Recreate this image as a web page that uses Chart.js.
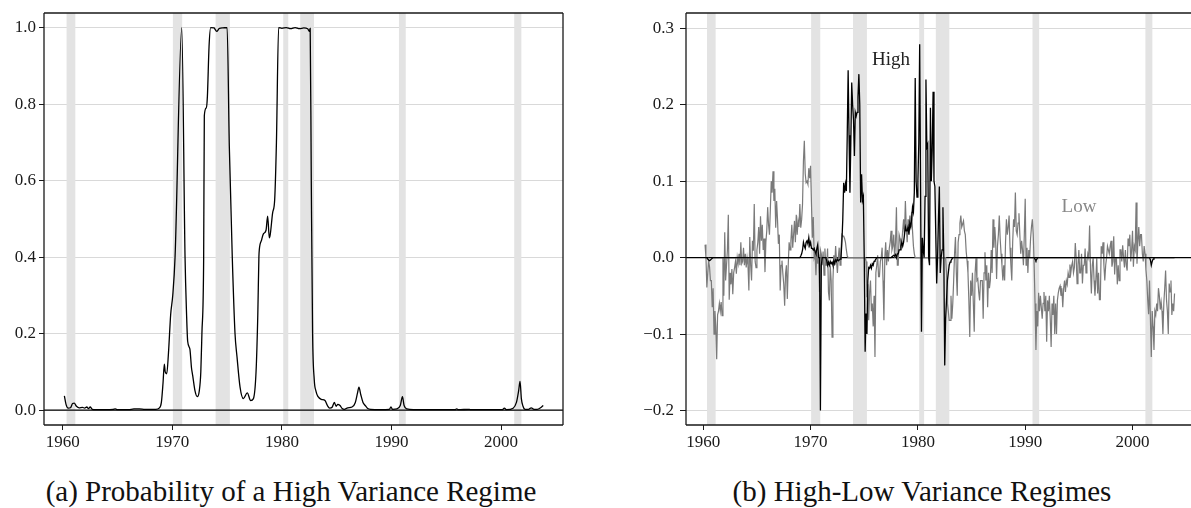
<!DOCTYPE html>
<html>
<head>
<meta charset="utf-8">
<script src="https://cdn.jsdelivr.net/npm/chart.js@4.4.1/dist/chart.umd.min.js"></script>
<style>
  body { margin: 0; background: #fff; width: 1191px; height: 508px; position: relative; overflow: hidden; font-family: "Liberation Serif", serif; }
  canvas { position: absolute; top: 0; }
  #probChart { left: 0; }
  #diffChart { left: 600px; }
  .caption { position: absolute; top: 477px; font-size: 29px; line-height: 1; color: #111; white-space: nowrap; transform: translateX(-50%); }
  .tag { position: absolute; font-size: 19px; line-height: 1; white-space: nowrap; transform: translate(-50%, -50%); }
</style>
</head>
<body>
<canvas id="probChart" width="580" height="460"></canvas>
<canvas id="diffChart" width="591" height="460"></canvas>
<div class="caption" style="left:291px">(a) Probability of a High Variance Regime</div>
<div class="caption" style="left:922px">(b) High-Low Variance Regimes</div>
<div class="tag" style="left:891px; top:58px; color:#222">High</div>
<div class="tag" style="left:1079px; top:205px; color:#888">Low</div>
<script>
// recession periods (shaded), in years
const recessions = [
    [1960.35, 1961.15], [1970.05, 1970.9], [1973.95, 1975.25], [1980.12, 1980.58],
    [1981.67, 1982.93], [1990.68, 1991.3], [2001.2, 2001.85]
];

const yearTicks = [1960, 1970, 1980, 1990, 2000];
const probTicks = [0, 0.2, 0.4, 0.6, 0.8, 1.0];
const diffTicks = [-0.2, -0.1, 0, 0.1, 0.2, 0.3];

// panel (a): probability of the high variance regime
const probYears = [
    1960.15, 1960.3, 1960.5, 1960.7, 1960.9, 1961.05, 1961.25, 1961.5, 1961.8, 1962.0,
    1962.2, 1962.35, 1962.5, 1962.7, 1963.0, 1964.0, 1964.6, 1964.8, 1965.0, 1966.0,
    1966.5, 1967.0, 1967.5, 1968.0, 1968.5, 1968.8, 1969.0, 1969.15, 1969.27, 1969.35,
    1969.49, 1969.65, 1969.85, 1970.04, 1970.25, 1970.86, 1971.16, 1971.3, 1971.4, 1971.6,
    1971.75, 1971.86, 1972.07, 1972.28, 1972.46, 1972.6, 1972.7, 1972.86, 1972.92, 1973.1,
    1973.2, 1973.35, 1973.5, 1973.8, 1974.05, 1974.3, 1974.6, 1975.0, 1975.2, 1975.47,
    1975.72, 1975.9, 1976.18, 1976.48, 1976.84, 1977.15, 1977.4, 1977.64, 1977.8, 1977.9,
    1977.94, 1978.15, 1978.3, 1978.55, 1978.7, 1978.85, 1978.94, 1979.15, 1979.34, 1979.5,
    1979.7, 1980.0, 1980.4, 1980.8, 1981.2, 1981.6, 1982.0, 1982.35, 1982.5, 1982.58,
    1982.68, 1982.8, 1982.95, 1983.1, 1983.3, 1983.6, 1983.93, 1984.15, 1984.35, 1984.6,
    1984.78, 1984.95, 1985.1, 1985.3, 1985.5, 1985.7, 1986.0, 1986.4, 1986.7, 1986.9,
    1987.03, 1987.2, 1987.4, 1987.6, 1987.8, 1988.1, 1989.0, 1989.8, 1989.95, 1990.1,
    1990.5, 1990.8, 1991.0, 1991.15, 1991.4, 1992.0, 1995.8, 1995.95, 1996.1, 1997.1,
    1997.3, 2000.1, 2000.3, 2000.5, 2001.1, 2001.4, 2001.6, 2001.73, 2001.85, 2002.0,
    2002.2, 2002.5, 2002.75, 2003.0, 2003.3, 2003.6, 2003.85
];
const probValues = [
    0.037, 0.015, 0.005, 0.006, 0.017, 0.018, 0.01, 0.006, 0.007, 0.005,
    0.008, 0.004, 0.008, 0.002, 0.001, 0.001, 0.002, 0.003, 0.001, 0.001,
    0.003, 0.003, 0.002, 0.002, 0.002, 0.005, 0.02, 0.07, 0.12, 0.1,
    0.095, 0.15, 0.25, 0.3, 0.4, 1.0, 0.4, 0.25, 0.18, 0.16,
    0.11, 0.09, 0.05, 0.035, 0.05, 0.1, 0.2, 0.4, 0.77, 0.79,
    0.82, 0.95, 1.0, 0.999, 0.99, 0.998, 0.999, 1.0, 0.69, 0.4,
    0.2, 0.14, 0.06, 0.03, 0.045, 0.025, 0.03, 0.1, 0.25, 0.4,
    0.42, 0.445, 0.46, 0.47, 0.507, 0.45, 0.46, 0.515, 0.55, 0.7,
    1.0, 0.998, 1.0, 0.997, 1.0, 0.997, 0.999, 0.997, 0.99, 0.998,
    0.6, 0.2, 0.08, 0.05, 0.035, 0.028, 0.025, 0.012, 0.005, 0.008,
    0.02, 0.01, 0.015, 0.012, 0.004, 0.002, 0.006, 0.008, 0.02, 0.045,
    0.06, 0.04, 0.02, 0.012, 0.005, 0.002, 0.001, 0.002, 0.008, 0.002,
    0.003, 0.012, 0.035, 0.012, 0.003, 0.001, 0.001, 0.003, 0.001, 0.002,
    0.001, 0.001, 0.005, 0.001, 0.005, 0.02, 0.05, 0.075, 0.03, 0.01,
    0.002, 0.002, 0.006, 0.002, 0.002, 0.006, 0.012
];

// panel (b): monthly series from March 1960 to December 2003
const firstMonth = 1960 + 2 / 12;
const highValues = [
    0, 0, 0, -0.002, -0.003, -0.004, -0.003, -0.002, -0.001, 0,            // 1960
    0, 0, 0, 0, 0, 0, 0, 0, 0, 0, 0, 0,                                      // 1961
    0, 0, 0, 0, 0, 0, 0, 0, 0, 0, 0, 0,                                      // 1962
    0, 0, 0, 0, 0, 0, 0, 0, 0, 0, 0, 0,                                      // 1963
    0, 0, 0, 0, 0, 0, 0, 0, 0, 0, 0, 0,                                      // 1964
    0, 0, 0, 0, 0, 0, 0, 0, 0, 0, 0, 0,                                      // 1965
    0, 0, 0, 0, 0, 0, 0, 0, 0, 0, 0, 0,                                      // 1966
    0, 0, 0, 0, 0, 0, 0, 0, 0, 0, 0, 0,                                      // 1967
    0, 0, 0, 0, 0, 0, 0, 0, 0, 0, 0, 0,                                      // 1968
    0, 0.002, 0.005, 0.01, 0.02, 0.015, 0.012, 0.02, 0.022, 0.018, 0.026, 0.016,   // 1969
    0.02, 0.012, 0.012, 0.01, 0.012, 0.008, 0.005, 0.012, 0.017, 0, 0, -0.2,        // 1970
    -0.01, 0, 0, 0, 0, 0, -0.004, -0.01, -0.006, -0.01, -0.005, -0.008,             // 1971
    -0.006, -0.01, -0.004, -0.008, -0.003, -0.005, -0.002, -0.004, -0.003, -0.002, 0, 0.02, // 1972
    0.05, 0.098, 0.085, 0.096, 0.087, 0.161, 0.245, 0.16, 0.085, 0.15, 0.229, 0.2,   // 1973
    0.18, 0.133, 0.19, 0.185, 0.19, 0.21, 0.24, 0.2, 0.072, 0.109, 0.075, 0.08,      // 1974
    0, -0.123, -0.073, -0.1, -0.03, -0.013, -0.014, -0.01, -0.014, -0.008, -0.01, -0.005, // 1975
    -0.004, -0.002, 0, 0, 0, 0, 0, 0, 0, 0, 0, 0,                            // 1976
    0, 0, 0, 0, 0, 0, 0, 0, 0.002, 0.003, 0.002, 0.004,                      // 1977
    0, 0.005, 0.005, 0.01, 0.01, 0.015, 0.02, 0.015, 0.02, 0.03, 0.04, 0.035,       // 1978
    0.035, 0.04, 0.03, 0.045, 0.04, 0.05, 0.066, 0.06, 0.085, 0.235, 0.1, 0.079,    // 1979
    0.1, 0.15, 0.279, 0.088, -0.097, 0.026, 0.01, 0, 0.08, 0.233, 0.144, 0.148,     // 1980
    0, -0.01, 0.196, 0.1, 0.14, 0.217, 0.1, 0.093, 0.03, -0.034, 0, 0.05,           // 1981
    0.093, -0.02, 0, 0.01, 0.066, 0, -0.141, -0.08, -0.056, -0.03, -0.02, -0.01,    // 1982
    -0.006, -0.004, -0.002, 0, 0, 0, 0, 0, 0, 0, 0, 0,                       // 1983
    0, 0, 0, 0, 0, 0, 0, 0, 0, 0, 0, 0,                                      // 1984
    0, 0, 0, 0, 0, 0, 0, 0, 0, 0, 0, 0,                                      // 1985
    0, 0, 0, 0, 0, 0, 0, 0, 0, 0, 0, 0,                                      // 1986
    0, 0, 0, 0, 0, 0, 0, 0, 0, 0, 0, 0,                                      // 1987
    0, 0, 0, 0, 0, 0, 0, 0, 0, 0, 0, 0,                                      // 1988
    0, 0, 0, 0, 0, 0, 0, 0, 0, 0, 0, 0,                                      // 1989
    0, 0, 0, 0, 0, 0, 0, 0, 0, 0, 0, -0.002,                                 // 1990
    -0.004, -0.002, 0, 0, 0, 0, 0, 0, 0, 0, 0, 0,                            // 1991
    0, 0, 0, 0, 0, 0, 0, 0, 0, 0, 0, 0,                                      // 1992
    0, 0, 0, 0, 0, 0, 0, 0, 0, 0, 0, 0,                                      // 1993
    0, 0, 0, 0, 0, 0, 0, 0, 0, 0, 0, 0,                                      // 1994
    0, 0, 0, 0, 0, 0, 0, 0, 0, 0, 0, 0,                                      // 1995
    0, 0, 0, 0, 0, 0, 0, 0, 0, 0, 0, 0,                                      // 1996
    0, 0, 0, 0, 0, 0, 0, 0, 0, 0, 0, 0,                                      // 1997
    0, 0, 0, 0, 0, 0, 0, 0, 0, 0, 0, 0,                                      // 1998
    0, 0, 0, 0, 0, 0, 0, 0, 0, 0, 0, 0,                                      // 1999
    0, 0, 0, 0, 0, 0, 0, 0, 0, 0, 0, 0,                                      // 2000
    0, 0, 0, 0, 0, 0, 0, 0, -0.003, -0.01, -0.005, -0.002,                   // 2001
    0, 0, 0, 0, 0, 0, 0, 0, 0, 0, 0, 0,                                      // 2002
    0, 0, 0, 0, 0, 0, 0, 0, 0, 0, 0, 0                                       // 2003
];
const lowValues = [
    0.017, 0, -0.039, -0.02, -0.005, -0.012, -0.03, -0.03, -0.065, -0.04,                // 1960
    -0.1, -0.07, -0.09, -0.133, -0.075, -0.07, -0.06, -0.07, -0.058, -0.076, 0, -0.05,    // 1961
    0.033, -0.03, -0.01, 0.01, 0.056, -0.055, -0.02, -0.035, -0.015, -0.048, -0.02, -0.013, // 1962
    -0.005, -0.021, 0, -0.008, 0.005, -0.01, 0.02, -0.008, -0.005, 0.013, -0.01, 0.005,  // 1963
    -0.013, 0, -0.01, -0.043, 0.027, -0.01, -0.03, 0.022, 0.009, 0.07, -0.005, -0.013,   // 1964
    0.01, 0.02, 0.04, 0.005, 0.054, 0.022, 0.043, 0.01, 0.025, -0.019, 0.02, 0.035,      // 1965
    0.066, 0.043, 0.03, 0.063, 0.1, 0.085, 0.113, 0.074, 0.09, 0.039, 0.074, 0.05,       // 1966
    0.018, 0.03, -0.043, -0.01, -0.004, -0.021, -0.035, -0.063, -0.021, -0.01, -0.054, -0.01, // 1967
    0.02, 0.01, 0.022, 0.043, 0.013, 0.03, 0.048, 0.02, 0.056, 0.03, 0.048, 0.04,        // 1968
    0.07, 0.039, 0.05, 0.07, 0.126, 0.153, 0.11, 0.098, 0.1, 0.096, 0.117, 0.104,        // 1969
    0.12, 0.07, 0.026, 0.053, 0, 0.005, -0.023, 0.01, -0.008, 0.004, -0.045, 0.01,       // 1970
    0.005, -0.01, 0.008, -0.023, 0.012, -0.01, -0.01, 0.012, -0.045, -0.056, -0.01, -0.03, // 1971
    -0.104, -0.03, 0.003, -0.01, 0.015, -0.005, -0.02, 0, 0.013, -0.01, 0.01, 0.03,      // 1972
    0.028, 0.028, 0.025, 0.02, 0.01, 0.002, 0, 0, 0, 0, 0, 0,                            // 1973
    0, 0, 0, 0, 0, 0, 0, 0, 0, 0, 0, 0,                                                  // 1974
    0, 0, -0.005, -0.052, -0.035, -0.082, -0.045, -0.03, -0.07, -0.06, -0.09, -0.05,     // 1975
    -0.13, -0.02, -0.01, 0.003, -0.025, -0.025, -0.005, 0, 0.013, -0.03, -0.082, 0,      // 1976
    0.02, -0.01, 0.01, -0.005, 0.012, 0.02, 0.035, 0.01, 0.015, 0.03, 0, 0.02,           // 1977
    0.066, -0.01, -0.01, 0.03, 0.025, 0.01, 0.02, 0.035, 0.05, 0.03, 0.074, 0.04,        // 1978
    0.02, 0.05, 0.035, 0.055, 0.04, 0.06, 0.035, 0.015, 0.005, 0, 0, 0,                 // 1979
    0, 0, 0, 0, 0, 0, 0, 0, 0, 0, 0, 0,                                                  // 1980
    0, 0, 0, 0, 0, 0, 0, 0, 0, 0, 0, 0,                                                  // 1981
    0, 0, 0, 0, 0, 0, 0, 0, -0.02, -0.06, -0.07, -0.082,                                 // 1982
    -0.082, -0.05, -0.08, -0.06, -0.03, 0.005, 0.027, -0.02, -0.05, 0.02, 0.03, 0.045,   // 1983
    0.055, 0.04, 0.044, 0.048, 0.035, 0.03, 0.008, -0.004, -0.02, -0.056, -0.104, -0.03, // 1984
    -0.05, -0.02, -0.06, -0.097, -0.02, 0, -0.03, -0.028, -0.045, -0.056, -0.03, -0.03,  // 1985
    -0.03, -0.08, -0.02, 0.007, -0.03, -0.01, -0.065, -0.02, -0.04, -0.03, 0.01, -0.02,  // 1986
    0.05, 0.013, 0.04, 0.02, -0.028, 0.015, 0.03, 0.055, 0.025, 0.005, -0.01, -0.03,     // 1987
    -0.01, -0.03, 0.02, 0.05, 0.03, 0.04, 0.055, 0.013, -0.01, -0.03, 0.02, 0.05,        // 1988
    0.04, 0.085, 0.035, 0.03, 0.045, 0.058, 0.03, 0.005, 0.022, 0.01, -0.01, 0.03,       // 1989
    0.077, -0.01, 0.013, -0.02, 0.01, 0, 0.025, 0.04, 0.05, 0.03, -0.01, -0.06,          // 1990
    -0.121, -0.07, -0.09, -0.046, -0.07, -0.05, -0.065, -0.08, -0.06, -0.045, -0.07, -0.05, // 1991
    -0.11, -0.056, -0.07, -0.05, -0.08, -0.117, -0.06, -0.075, -0.05, -0.1, -0.06, -0.1, // 1992
    -0.056, -0.046, -0.04, -0.037, -0.05, -0.04, -0.065, -0.04, -0.03, -0.045, -0.03, -0.035, // 1993
    -0.02, -0.026, -0.009, -0.02, -0.01, -0.005, -0.02, -0.013, 0.019, 0, -0.034, -0.01, // 1994
    0.01, -0.02, -0.02, 0.005, -0.034, -0.01, -0.01, 0.012, -0.02, -0.005, 0.005, 0,     // 1995
    0.042, -0.015, -0.047, -0.01, 0, -0.03, -0.05, -0.03, 0, -0.047, -0.02, -0.055,      // 1996
    -0.055, 0.015, 0.005, 0.02, -0.01, -0.03, -0.01, 0, 0.015, 0.01, 0.005, 0.015,       // 1997
    0.022, -0.012, -0.005, 0.028, -0.022, 0, 0, -0.035, -0.01, -0.03, 0.01, 0.01,        // 1998
    -0.005, 0.016, 0, -0.013, 0.01, -0.01, -0.017, 0.025, 0.015, 0.03, -0.005, 0.01,     // 1999
    0.035, -0.012, 0.015, 0.01, 0.072, -0.008, 0.02, 0.04, 0.015, 0.03, 0.03, 0.005,     // 2000
    -0.005, 0.015, 0.005, -0.016, -0.03, -0.055, -0.074, -0.03, -0.08, -0.13, -0.07, -0.09, // 2001
    -0.121, -0.07, -0.075, -0.06, -0.07, -0.04, -0.05, -0.068, -0.058, -0.07, -0.1, -0.06, // 2002
    -0.04, -0.017, -0.055, -0.07, -0.1, -0.034, -0.045, -0.03, -0.075, -0.06, -0.07, -0.047 // 2003
];

const tickFont = { family: "'Liberation Serif', serif", size: 17 };
const inkColor = '#1a1a1a';

function monthly(values) {
    return values.map((v, i) => ({ x: firstMonth + i / 12, y: v }));
}

function fmtValue(v) {
    const s = Math.abs(v) < 1e-9 ? '0.0' : v.toFixed(1);
    return s.replace('-', '\u2212');
}

// recession shading, zero line and the frame round the plot area
const regimePlugin = {
    id: 'regimeDecor',
    beforeDatasetsDraw(chart) {
        const { ctx, chartArea: a, scales: { x, y } } = chart;
        ctx.save();
        ctx.fillStyle = '#e3e3e3';
        recessions.forEach(([start, end]) => {
            const x0 = x.getPixelForValue(start);
            const x1 = x.getPixelForValue(end);
            ctx.fillRect(x0, a.top, x1 - x0, a.bottom - a.top);
        });
        const y0 = y.getPixelForValue(0);
        ctx.strokeStyle = '#000';
        ctx.lineWidth = 1.2;
        ctx.beginPath();
        ctx.moveTo(a.left, y0);
        ctx.lineTo(a.right, y0);
        ctx.stroke();
        ctx.restore();
    },
    afterDraw(chart, args, opts) {
        const { ctx, chartArea: a } = chart;
        const sides = opts.sides || [];
        ctx.save();
        ctx.strokeStyle = inkColor;
        ctx.lineWidth = 1.3;
        ctx.beginPath();
        if (sides.includes('top')) { ctx.moveTo(a.left, a.top); ctx.lineTo(a.right, a.top); }
        if (sides.includes('bottom')) { ctx.moveTo(a.left, a.bottom); ctx.lineTo(a.right, a.bottom); }
        if (sides.includes('left')) { ctx.moveTo(a.left, a.top); ctx.lineTo(a.left, a.bottom); }
        if (sides.includes('right')) { ctx.moveTo(a.right, a.top); ctx.lineTo(a.right, a.bottom); }
        ctx.stroke();
        ctx.restore();
    }
};

function xScale(min, max) {
    return {
        type: 'linear',
        min: min,
        max: max,
        afterBuildTicks: s => { s.ticks = yearTicks.map(v => ({ value: v })); },
        afterFit: s => { s.height = 35; s.paddingLeft = 0; s.paddingRight = 0; },
        grid: { drawOnChartArea: false, tickLength: 5, tickColor: inkColor },
        border: { display: false },
        ticks: { padding: 2, color: inkColor, font: tickFont, autoSkip: false, maxRotation: 0, callback: v => String(v) }
    };
}

function yScale(min, max, tickValues, width, tickLen, pad) {
    return {
        type: 'linear',
        min: min,
        max: max,
        afterBuildTicks: s => { s.ticks = tickValues.map(v => ({ value: v })); },
        afterFit: s => { s.width = width; s.paddingTop = 0; s.paddingBottom = 0; },
        grid: { color: '#d9d9d9', lineWidth: 1, tickLength: tickLen, tickColor: inkColor },
        border: { display: false },
        ticks: { padding: pad, color: inkColor, font: tickFont, autoSkip: false, callback: v => fmtValue(v) }
    };
}

const common = {
    responsive: false,
    animation: false,
    events: [],
    elements: { point: { radius: 0 }, line: { tension: 0 } }
};

function drawCharts() {
    new Chart(document.getElementById('probChart').getContext('2d'), {
        type: 'line',
        data: {
            datasets: [{
                data: probYears.map((x, i) => ({ x: x, y: probValues[i] })),
                borderColor: '#000',
                borderWidth: 1.3,
                cubicInterpolationMode: 'monotone'
            }]
        },
        options: Object.assign({}, common, {
            layout: { padding: { top: 13, right: 17, left: 0, bottom: 0 } },
            plugins: {
                legend: { display: false },
                tooltip: { enabled: false },
                regimeDecor: { sides: ['top', 'bottom', 'left', 'right'] }
            },
            scales: {
                x: xScale(1958.29, 2005.65),
                y: yScale(-0.039, 1.038, probTicks, 44, 5, 3)
            }
        }),
        plugins: [regimePlugin]
    });

    new Chart(document.getElementById('diffChart').getContext('2d'), {
        type: 'line',
        data: {
            datasets: [
                { label: 'High', data: monthly(highValues), borderColor: '#000', borderWidth: 1.3 },
                { label: 'Low', data: monthly(lowValues), borderColor: '#7a7a7a', borderWidth: 1.2 }
            ]
        },
        options: Object.assign({}, common, {
            layout: { padding: { top: 13, right: 0, left: 0, bottom: 0 } },
            plugins: {
                legend: { display: false },
                tooltip: { enabled: false },
                regimeDecor: { sides: ['top', 'bottom', 'left'] }
            },
            scales: {
                x: xScale(1958.39, 2005.45),
                y: yScale(-0.219, 0.32, diffTicks, 86, 6, 6)
            }
        }),
        plugins: [regimePlugin]
    });
}

// make sure the serif face is ready before the canvases are painted
document.fonts.load("17px 'Liberation Serif'").then(drawCharts, drawCharts);
</script>
</body>
</html>
